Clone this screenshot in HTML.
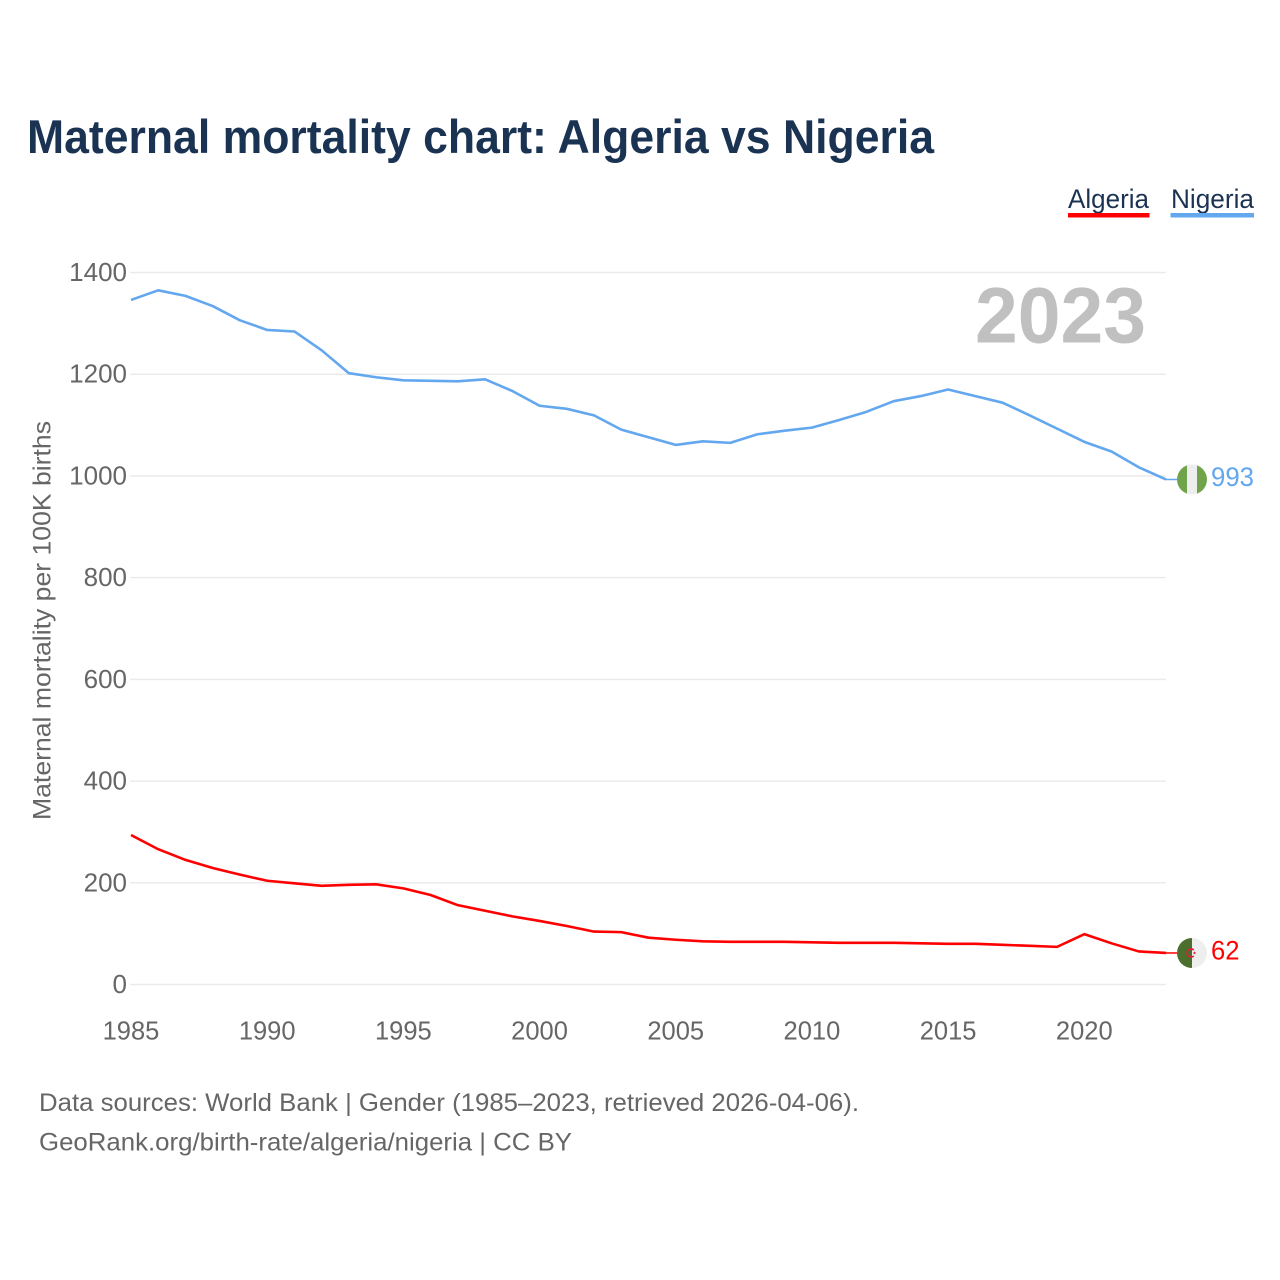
<!DOCTYPE html>
<html lang="en">
<head>
<meta charset="utf-8">
<title>Maternal mortality chart: Algeria vs Nigeria</title>
<style>
html,body{margin:0;padding:0;background:#fff;width:1280px;height:1280px;overflow:hidden}
svg{display:block}
text{font-family:"Liberation Sans",sans-serif}
</style>
</head>
<body>
<svg id="chart" xmlns="http://www.w3.org/2000/svg" width="1280" height="1280" viewBox="0 0 1280 1280">
  <rect width="1280" height="1280" fill="#ffffff"/>
  <text x="27" y="153" font-size="47" font-weight="700" fill="#1a3353" textLength="907" lengthAdjust="spacingAndGlyphs">Maternal mortality chart: Algeria vs Nigeria</text>
  <g>
    <text x="1068" y="208" font-size="27" fill="#1a3353" textLength="81" lengthAdjust="spacingAndGlyphs">Algeria</text>
    <rect x="1068" y="213" width="81.500" height="4.500" fill="#ff0000"/>
    <text x="1171" y="208" font-size="27" fill="#1a3353" textLength="83" lengthAdjust="spacingAndGlyphs">Nigeria</text>
    <rect x="1170.500" y="213" width="83.500" height="4.500" fill="#63a7ee"/>
  </g>
  <g id="grid"></g>
  <g id="y-ticks"></g>
  <g id="x-ticks"></g>
  <text transform="translate(50.500,820) rotate(-90)" font-size="25" fill="#666666" textLength="399" lengthAdjust="spacingAndGlyphs">Maternal mortality per 100K births</text>
  <text x="975" y="342.500" font-size="79" font-weight="700" fill="#c0c0c0" textLength="171" lengthAdjust="spacingAndGlyphs">2023</text>
  <g id="series"></g>
  <defs>
    <clipPath id="clip-nigeria"><circle r="15"/></clipPath>
    <clipPath id="clip-algeria"><circle r="15"/></clipPath>
  </defs>
  <g id="flag-nigeria" clip-path="url(#clip-nigeria)">
    <rect x="-15" y="-15" width="10" height="30" fill="#6fa44b"/>
    <rect x="-5" y="-15" width="10" height="30" fill="#eeeeee"/>
    <rect x="5" y="-15" width="10" height="30" fill="#6fa44b"/>
  </g>
  <g id="flag-algeria" clip-path="url(#clip-algeria)">
    <rect x="-15" y="-15" width="15" height="30" fill="#4d6f2e"/>
    <rect x="0" y="-15" width="15" height="30" fill="#eeeeee"/>
    <path d="M1.800,-3 A4,4 0 1 0 1.800,3" fill="none" stroke="#d9203a" stroke-width="1.700"/>
    <polygon points="2.500,-1.700 3,-0.500 4.300,-0.500 3.300,0.300 3.600,1.500 2.500,0.800 1.400,1.500 1.700,0.300 0.700,-0.500 2,-0.500" fill="#d9203a"/>
  </g>
  <text id="end-nigeria" x="1211" font-size="27" fill="#63a7ee" textLength="43" lengthAdjust="spacingAndGlyphs"></text>
  <text id="end-algeria" x="1211" font-size="27" fill="#ff0000" textLength="28.500" lengthAdjust="spacingAndGlyphs"></text>
  <text x="39" y="1111" font-size="25" fill="#666666" textLength="820" lengthAdjust="spacingAndGlyphs">Data sources: World Bank | Gender (1985–2023, retrieved 2026-04-06).</text>
  <text x="39" y="1150.500" font-size="25" fill="#666666" textLength="533" lengthAdjust="spacingAndGlyphs">GeoRank.org/birth-rate/algeria/nigeria | CC BY</text>
</svg>
<script>
var years = [1985,1986,1987,1988,1989,1990,1991,1992,1993,1994,1995,1996,1997,1998,1999,2000,2001,2002,2003,2004,2005,2006,2007,2008,2009,2010,2011,2012,2013,2014,2015,2016,2017,2018,2019,2020,2021,2022,2023];
var nigeriaValues = [1346,1365,1354,1334,1306,1287,1284,1247,1202,1194,1188,1187,1186,1190,1167,1138,1132,1119,1091,1076,1061,1068,1065,1082,1089,1095,1110,1126,1147,1157,1170,1157,1144,1119,1093,1067,1048,1017,993];
var algeriaValues = [294,266,245,229,216,204,199,194,196,197,189,176,156,145,134,125,115,104,103,92,88,85,84,84,84,83,82,82,82,81,80,80,78,76,74,99,81,65,62];
var yTickValues = [0,200,400,600,800,1000,1200,1400];
var xTickValues = [1985,1990,1995,2000,2005,2010,2015,2020];

var SVGNS = 'http://www.w3.org/2000/svg';
function xScale(year){ return 131 + (year - 1985) * (1166 - 131) / (2023 - 1985); }
function yScale(value){ return 984.5 - value * (984.5 - 272.5) / 1400; }
function make(tag, parent){
  var el = document.createElementNS(SVGNS, tag);
  parent.appendChild(el);
  return el;
}

var grid = document.getElementById('grid');
var yTicks = document.getElementById('y-ticks');
var xTicks = document.getElementById('x-ticks');
var series = document.getElementById('series');

yTickValues.forEach(function(v){
  var line = make('line', grid);
  
  
  line.setAttribute('x1', 130);
  line.setAttribute('x2', 1166);
  line.setAttribute('y1', yScale(v));
  line.setAttribute('y2', yScale(v));
  line.setAttribute('stroke', '#ebebeb');
  line.setAttribute('stroke-width', 1.5);

  var label = make('text', yTicks);
  
  
  label.setAttribute('x', 127);
  label.setAttribute('y', yScale(v) + 8.5);
  label.setAttribute('text-anchor', 'end');
  label.setAttribute('font-size', 26);
  label.setAttribute('fill', '#666666');
  label.textContent = String(v);
});

xTickValues.forEach(function(t){
  var label = make('text', xTicks);
  
  
  label.setAttribute('x', xScale(t));
  label.setAttribute('y', 1039.5);
  label.setAttribute('text-anchor', 'middle');
  label.setAttribute('font-size', 25.5);
  label.setAttribute('fill', '#666666');
  label.textContent = String(t);
});

function linePoints(values){
  return values.map(function(v, i){
    return xScale(years[i]).toFixed(2) + ',' + yScale(v).toFixed(2);
  }).join(' ');
}

var nigeriaLine = make('polyline', series);


nigeriaLine.setAttribute('points', linePoints(nigeriaValues));
nigeriaLine.setAttribute('fill', 'none');
nigeriaLine.setAttribute('stroke', '#63a7ee');
nigeriaLine.setAttribute('stroke-width', 2.6);
nigeriaLine.setAttribute('stroke-linejoin', 'round');

var algeriaLine = make('polyline', series);


algeriaLine.setAttribute('points', linePoints(algeriaValues));
algeriaLine.setAttribute('fill', 'none');
algeriaLine.setAttribute('stroke', '#ff0000');
algeriaLine.setAttribute('stroke-width', 2.6);
algeriaLine.setAttribute('stroke-linejoin', 'round');

var nEnd = nigeriaValues[nigeriaValues.length - 1];
var aEnd = algeriaValues[algeriaValues.length - 1];
var lastX = xScale(years[years.length - 1]);

var nigeriaStub = make('line', series);


nigeriaStub.setAttribute('x1', lastX);
nigeriaStub.setAttribute('x2', lastX + 11);
nigeriaStub.setAttribute('y1', yScale(nEnd));
nigeriaStub.setAttribute('y2', yScale(nEnd));
nigeriaStub.setAttribute('stroke', '#63a7ee');
nigeriaStub.setAttribute('stroke-width', 1.5);

var algeriaStub = make('line', series);


algeriaStub.setAttribute('x1', lastX);
algeriaStub.setAttribute('x2', lastX + 11);
algeriaStub.setAttribute('y1', yScale(aEnd));
algeriaStub.setAttribute('y2', yScale(aEnd));
algeriaStub.setAttribute('stroke', '#ff0000');
algeriaStub.setAttribute('stroke-width', 1.5);

function placeFlag(id, value){
  document.getElementById(id).setAttribute('transform', 'translate(' + (lastX + 26) + ',' + yScale(value) + ')');
}
placeFlag('flag-nigeria', nEnd);
placeFlag('flag-algeria', aEnd);

var endN = document.getElementById('end-nigeria');
endN.setAttribute('y', yScale(nEnd) + 6.5);
endN.textContent = String(nEnd);
var endA = document.getElementById('end-algeria');
endA.setAttribute('y', yScale(aEnd) + 6.5);
endA.textContent = String(aEnd);
</script>
</body>
</html>
